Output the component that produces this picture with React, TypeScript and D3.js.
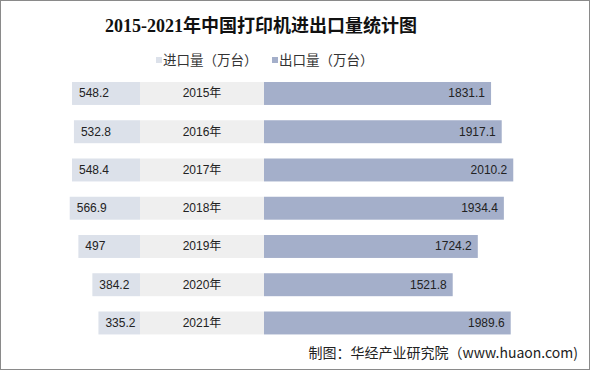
import React from "react";
import * as d3 from "d3";

const years = ["2015年", "2016年", "2017年", "2018年", "2019年", "2020年", "2021年"];
const importVals = [548.2, 532.8, 548.4, 566.9, 497, 384.2, 335.2];
const exportVals = [1831.1, 1917.1, 2010.2, 1934.4, 1724.2, 1521.8, 1989.6];
const fillerSpan = 1000;
const legendLabels = ["进口量（万台）", "出口量（万台）"];
const titleText = "2015-2021年中国打印机进出口量统计图";
const sourceText = "制图：华经产业研究院（www.huaon.com)";

const W = 592;
const H = 372;
const C_IMPORT = "#dce1ea";
const C_FILL = "#efefef";
const C_EXPORT = "#a4afca";
const CJK = "'Noto Sans CJK SC', 'Liberation Sans', sans-serif";
const NUM = "'Liberation Sans', Arial, 'Noto Sans CJK SC', sans-serif";

export default function App() {
  const x = d3.scaleLinear().domain([-fillerSpan, 2000]).range([140, 512]);
  const y = d3
    .scaleBand<string>()
    .domain(years)
    .range([74.35, 342.1])
    .paddingInner(0.4)
    .paddingOuter(0.2);
  const bw = y.bandwidth();

  return (
    <svg
      width={W}
      height={H}
      style={{ position: "absolute", left: 0, top: 0, background: "#fff" }}
    >
      <rect x={0.5} y={0.5} width={W - 3} height={H - 3} fill="#fff" stroke="#8a8a8a" />
      <text
        x={261}
        y={32}
        textAnchor="middle"
        fontSize={18}
        fontWeight="bold"
        fill="#111"
        style={{ fontFamily: "'Liberation Serif', 'Noto Sans CJK SC', serif" }}
      >
        {titleText}
      </text>
      {/* legend */}
      <rect x={156} y={57} width={6} height={6} fill={C_IMPORT} />
      <text x={163} y={65} fontSize={13.5} fill="#333" style={{ fontFamily: CJK }}>
        {legendLabels[0]}
      </text>
      <rect x={272} y={57} width={6} height={6} fill={C_EXPORT} />
      <text x={279} y={65} fontSize={13.5} fill="#333" style={{ fontFamily: CJK }}>
        {legendLabels[1]}
      </text>

      {years.map((yr, i) => {
        const top = y(yr)!;
        const cy = top + bw / 2;
        const impL = x(-fillerSpan - importVals[i]);
        const impR = x(-fillerSpan);
        const midL = x(-fillerSpan);
        const midR = x(0);
        const expR = x(exportVals[i]);
        return (
          <g key={yr}>
            <rect x={impL} y={top} width={impR - impL} height={bw} fill={C_IMPORT} />
            <rect x={midL} y={top} width={midR - midL} height={bw} fill={C_FILL} />
            <rect x={midR} y={top} width={expR - midR} height={bw} fill={C_EXPORT} />
            <text
              x={impL + 7}
              y={cy + 4}
              fontSize={12}
              fill="#222"
              style={{ fontFamily: NUM }}
            >
              {importVals[i]}
            </text>
            <text
              x={(midL + midR) / 2}
              y={cy + 4}
              fontSize={12}
              textAnchor="middle"
              fill="#222"
              style={{ fontFamily: NUM }}
            >
              {yr}
            </text>
            <text
              x={expR - 6}
              y={cy + 4}
              fontSize={12}
              textAnchor="end"
              fill="#222"
              style={{ fontFamily: NUM }}
            >
              {exportVals[i]}
            </text>
          </g>
        );
      })}

      <text
        x={578}
        y={358}
        textAnchor="end"
        fontSize={14}
        fill="#222"
        style={{ fontFamily: CJK }}
      >
        {sourceText}
      </text>
    </svg>
  );
}
